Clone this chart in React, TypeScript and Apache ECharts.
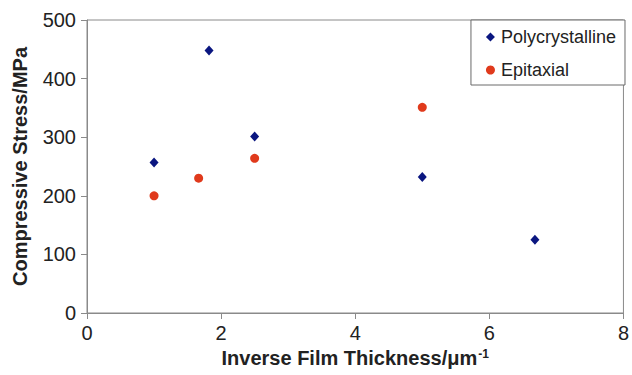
import React, { useEffect, useRef } from "react";
import * as echarts from "echarts";

const polyX = [1.0, 1.82, 2.5, 5.0, 6.68];
const polyY = [257, 448, 301, 232, 125];
const epiX = [1.0, 1.665, 2.5, 5.0];
const epiY = [200, 230, 264, 351];
const xTicks = [0, 2, 4, 6, 8];
const yTicks = [0, 100, 200, 300, 400, 500];

const FONT = "'Liberation Sans', Arial, sans-serif";

export default function App() {
  const ref = useRef<HTMLDivElement>(null);
  useEffect(() => {
    if (!ref.current) return;
    const chart = echarts.init(ref.current, undefined, { renderer: "svg" });
    chart.setOption({
      animation: false,
      backgroundColor: "#ffffff",
      textStyle: { fontFamily: FONT },
      grid: {
        left: 87,
        right: 7,
        top: 20,
        bottom: 62,
        show: true,
        borderColor: "#8a8a8a",
        borderWidth: 1,
        backgroundColor: "transparent",
      },
      legend: {
        orient: "vertical",
        right: 7,
        top: 20,
        padding: [8, 9, 6, 15],
        itemGap: 15,
        itemWidth: 9,
        itemHeight: 9,
        borderColor: "#6a6a6a",
        borderWidth: 1,
        borderRadius: 0,
        backgroundColor: "#ffffff",
        textStyle: { fontFamily: FONT, fontSize: 18, color: "#222", padding: [0, 0, 0, 1] },
        data: ["Polycrystalline", "Epitaxial"],
      },
      xAxis: {
        type: "value",
        min: xTicks[0],
        max: xTicks[xTicks.length - 1],
        interval: 2,
        name: "Inverse Film Thickness/μm{sup|-1}",
        nameLocation: "middle",
        nameGap: 33,
        nameTextStyle: {
          fontFamily: FONT,
          fontSize: 20,
          fontWeight: "bold",
          color: "#222",
          rich: {
            sup: { fontSize: 12, fontWeight: "bold", verticalAlign: "top", color: "#222", padding: [0, 0, 8, 1] },
          },
        },
        axisLine: { show: true, lineStyle: { color: "#8a8a8a", width: 1 } },
        axisTick: { show: true, inside: false, length: 6, lineStyle: { color: "#8a8a8a" } },
        axisLabel: { fontFamily: FONT, fontSize: 20, color: "#222", margin: 10 },
        splitLine: { show: false },
      },
      yAxis: {
        type: "value",
        min: yTicks[0],
        max: yTicks[yTicks.length - 1],
        interval: 100,
        name: "Compressive Stress/MPa",
        nameLocation: "middle",
        nameGap: 57,
        nameTextStyle: { fontFamily: FONT, fontSize: 20, fontWeight: "bold", color: "#222" },
        axisLine: { show: true, lineStyle: { color: "#8a8a8a", width: 1 } },
        axisTick: { show: true, inside: false, length: 6, lineStyle: { color: "#8a8a8a" } },
        axisLabel: { fontFamily: FONT, fontSize: 20, color: "#222", margin: 11 },
        splitLine: { show: false },
      },
      series: [
        {
          name: "Polycrystalline",
          type: "scatter",
          symbol: "diamond",
          symbolSize: [9, 10],
          itemStyle: { color: "#0a1680", opacity: 1 },
          data: polyX.map((x, i) => [x, polyY[i]]),
        },
        {
          name: "Epitaxial",
          type: "scatter",
          symbol: "circle",
          symbolSize: 9,
          itemStyle: { color: "#e03a1c", opacity: 1 },
          data: epiX.map((x, i) => [x, epiY[i]]),
        },
      ],
    });
    return () => chart.dispose();
  }, []);
  return (
    <div
      ref={ref}
      style={{ position: "fixed", left: 0, top: 0, width: 632, height: 375, background: "#fff" }}
    />
  );
}
